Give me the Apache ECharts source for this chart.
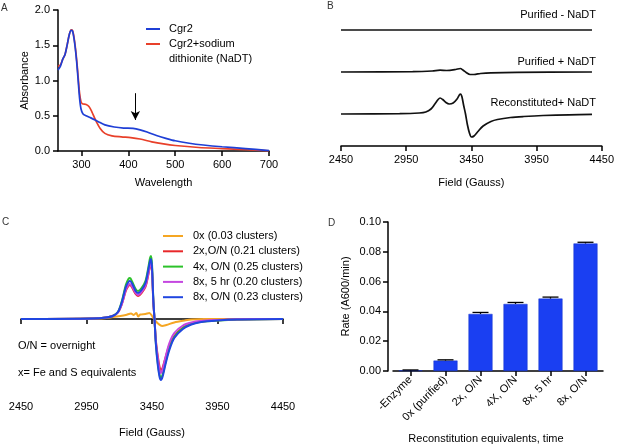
<!DOCTYPE html>
<html><head><meta charset="utf-8">
<script src="https://cdn.jsdelivr.net/npm/echarts@6/dist/echarts.min.js"></script>
<style>html,body{margin:0;padding:0;background:#fff}#c{width:617px;height:446px}</style>
</head><body><div id="c"></div>
<script>
// ---------- Panel A: UV-vis ----------
const aXTicks = [300, 400, 500, 600, 700];
const aBlue = [[250,1.15],[255,1.2],[260,1.3],[265,1.37],[270,1.52],[274,1.65],[278,1.71],[281,1.7],[284,1.6],[287,1.45],[290,1.25],[293,1.0],[296,0.75],[299,0.6],[303,0.53],[310,0.5],[320,0.47],[335,0.42],[350,0.37],[370,0.34],[390,0.325],[410,0.32],[425,0.3],[440,0.27],[460,0.22],[480,0.18],[500,0.145],[530,0.11],[560,0.085],[600,0.06],[650,0.035],[700,0.005]];
const aRed = [[250,1.2],[255,1.22],[260,1.3],[265,1.37],[270,1.52],[274,1.65],[278,1.72],[281,1.71],[284,1.62],[287,1.47],[290,1.28],[293,1.05],[296,0.82],[299,0.7],[302,0.67],[310,0.66],[316,0.63],[322,0.56],[330,0.44],[340,0.32],[350,0.25],[365,0.215],[385,0.2],[405,0.19],[425,0.17],[450,0.13],[475,0.1],[500,0.078],[550,0.05],[600,0.034],[650,0.018],[700,0.002]];
const aArrow = {x: 415, from: 0.82, to: 0.44};

// ---------- Panel B: EPR traces ----------
const fieldTicks = [2450, 2950, 3450, 3950, 4450];
const bTopField = [2450, 3270, 3285, 3295, 3305, 3320, 4375];
const bTop = [0, 0, 0.8, 0, -0.8, 0, 0];
const bMidField = [2450, 3000, 3150, 3210, 3260, 3330, 3365, 3385, 3410, 3440, 3470, 3520, 3600, 3800, 4375];
const bMid = [0, 0.3, 1, 1.8, 1.5, 2.5, 3.5, 2, -0.5, -2.5, -2.5, -1.5, -0.8, -0.3, 0];
const bBotField = [2450, 2900, 3050, 3100, 3140, 3170, 3195, 3210, 3230, 3255, 3280, 3310, 3340, 3360, 3368, 3378, 3390, 3405, 3420, 3435, 3450, 3470, 3500, 3540, 3600, 3650, 3750, 3850, 4000, 4200, 4375];
const bBot = [0, 0.3, 1, 2, 5, 10, 14.5, 16, 14.5, 11.5, 10, 11, 15, 19.5, 20, 17, 9, 0, -11, -19, -23, -22, -17.5, -12, -7.5, -5.5, -3.5, -2.5, -1.5, -0.8, -0.3];
const bNames = ['Purified - NaDT', 'Purified + NaDT', 'Reconstituted+ NaDT'];

// ---------- Panel C: EPR reconstitution ----------
const cNames = ['0x (0.03 clusters)', '2x,O/N (0.21 clusters)', '4x, O/N (0.25 clusters)', '8x, 5 hr (0.20 clusters)', '8x, O/N (0.23 clusters)'];
const cOrangeField = [2450, 3050, 3150, 3250, 3290, 3310, 3330, 3345, 3360, 3400, 3430, 3450, 3470, 3500, 3527, 3560, 3620, 3700, 3750, 3850, 4450];
const cOrange = [0, 0.5, 2, 4, 5.5, 4, 6, 2.5, 4.5, 5, 6, 3, -1, -5, -7, -6, -3.5, -1.5, -0.5, 0, 0];
const cField = [2450, 3000, 3100, 3150, 3190, 3220, 3250, 3270, 3282, 3300, 3325, 3343, 3370, 3400, 3420, 3435, 3442, 3450, 3460, 3469, 3480, 3495, 3508, 3518, 3530, 3550, 3580, 3620, 3686, 3750, 3816, 3950, 4100, 4450];
const cRed = [0,0.5,1.5,3,6.5,15,28,33,34,31,25,23,26,32,43,53,55,48,17,0,-22,-38,-48,-51,-49,-40,-27,-17,-8.5,-4.5,-2.8,-1.3,-0.4,0];
const cGreen = [0,0.5,1.5,3,7,18,34,40,41,37,30,28,31,38,50,61,63,55,20,0,-25,-45,-56,-59,-56,-45,-30,-18,-9,-5,-3,-1.5,-0.5,0];
const cMagenta = [0,0.5,1.5,3,6.5,15,29,34,35,32,26,24,27,33,44,54,56,49,18,0,-23,-40,-51,-54,-51,-40,-25,-14,-6.5,-3.5,-2,-1,-0.3,0];
const cBlue = [0,0.5,1.5,3,7,17,32,37,38,35,28,26,29,36,48,58,60,52,19,0,-26,-47,-58,-61,-58,-47,-32,-19,-10,-5.5,-3.2,-1.5,-0.5,0];

// ---------- Panel D: activity ----------
const dCats = ['-Enzyme', '0x (purified)', '2x, O/N', '4X, O/N', '8x, 5 hr', '8x, O/N'];
const dRate = [0.0004, 0.007, 0.0383, 0.045, 0.0486, 0.0856];
const dErr = [0.0003, 0.0005, 0.001, 0.001, 0.001, 0.0008];

const FONT = "'Liberation Sans', Arial, Helvetica, sans-serif";
const FS = 11;
const pair = (xs, ys, off) => xs.map((x, i) => [x, ys[i] + (off || 0)]);
const axisLineStyle = {show: true, lineStyle: {color: '#000', width: 1.5}};
const tickStyle = {show: true, length: 5, lineStyle: {color: '#000', width: 1.5}};
const lbl = {color: '#000', fontSize: FS, fontFamily: FONT};
const nameStyle = {color: '#000', fontSize: FS, fontFamily: FONT};

const B_OFF = [116, 74, 32];

const fieldAxis = (gi, gap) => ({
  type: 'value', gridIndex: gi, min: 2450, max: 4450,
  axisLine: axisLineStyle, axisTick: Object.assign({}, tickStyle, {customValues: fieldTicks}),
  axisLabel: Object.assign({}, lbl, {customValues: fieldTicks, margin: 8, formatter: v => String(v)}),
  splitLine: {show: false},
  name: 'Field (Gauss)', nameLocation: 'middle', nameGap: gap, nameTextStyle: nameStyle
});

const cColors = ['#f5a623', '#e8282a', '#2cc22a', '#c447e0', '#2046e0'];
const cData = [pair(cOrangeField, cOrange), pair(cField, cRed), pair(cField, cGreen), pair(cField, cMagenta), pair(cField, cBlue)];

const option = {
  animation: false,
  textStyle: {fontFamily: FONT},
  grid: [
    {left: 58, top: 10, width: 211, height: 141},
    {left: 341, top: 10, width: 266, height: 136},
    {left: 21, top: 240, width: 262, height: 153},
    {left: 393, top: 222, width: 210, height: 149}
  ],
  xAxis: [
    {type: 'value', gridIndex: 0, min: 250, max: 700,
     axisLine: axisLineStyle, axisTick: Object.assign({}, tickStyle, {customValues: aXTicks}),
     axisLabel: Object.assign({}, lbl, {customValues: aXTicks, margin: 8, formatter: v => String(v)}), splitLine: {show: false},
     name: 'Wavelength', nameLocation: 'middle', nameGap: 26, nameTextStyle: nameStyle},
    fieldAxis(1, 31),
    fieldAxis(2, 34),
    {type: 'category', gridIndex: 3, data: dCats,
     axisLine: axisLineStyle, axisTick: Object.assign({}, tickStyle, {alignWithLabel: true}),
     axisLabel: Object.assign({}, lbl, {rotate: 45, interval: 0, margin: 7}),
     name: 'Reconstitution equivalents, time', nameLocation: 'middle', nameGap: 62,
     nameTextStyle: Object.assign({}, nameStyle, {padding: [0, 24, 0, 0]})}
  ],
  yAxis: [
    {type: 'value', gridIndex: 0, min: 0, max: 2, interval: 0.5,
     axisLine: axisLineStyle, axisTick: tickStyle,
     axisLabel: Object.assign({}, lbl, {formatter: v => v.toFixed(1), margin: 8}), splitLine: {show: false},
     name: 'Absorbance', nameLocation: 'middle', nameGap: 26, nameTextStyle: nameStyle},
    {type: 'value', gridIndex: 1, min: 0, max: 136, show: false},
    {type: 'value', gridIndex: 2, min: -74, max: 79, show: false},
    {type: 'value', gridIndex: 3, min: 0, max: 0.1, interval: 0.02, offset: 5,
     axisLine: axisLineStyle, axisTick: tickStyle,
     axisLabel: Object.assign({}, lbl, {formatter: v => v.toFixed(2), margin: 7}), splitLine: {show: false},
     name: 'Rate (A600/min)', nameLocation: 'middle', nameGap: 37, nameTextStyle: nameStyle}
  ],
  legend: [
    {left: 146, top: 23, padding: 0, orient: 'vertical', icon: 'rect', itemWidth: 14, itemHeight: 2, itemGap: 3,
     data: ['Cgr2', 'Cgr2+sodium dithionite (NaDT)'],
     formatter: n => n === 'Cgr2' ? 'Cgr2' : 'Cgr2+sodium',
     textStyle: {color: '#000', fontSize: FS, lineHeight: 12, fontFamily: FONT, padding: [0, 0, 0, 4]}},
    {left: 163, top: 230, padding: 0, orient: 'vertical', icon: 'rect', itemWidth: 20, itemHeight: 2, itemGap: 3.3,
     data: cNames,
     textStyle: {color: '#000', fontSize: FS, lineHeight: 12, fontFamily: FONT, padding: [0, 0, 0, 5]}}
  ],
  series: [
    {type: 'line', name: 'Cgr2', xAxisIndex: 0, yAxisIndex: 0, data: aBlue, showSymbol: false, smooth: 0.3,
     lineStyle: {color: '#1f3fd6', width: 1.7}, itemStyle: {color: '#1f3fd6'}, z: 3,
     markLine: {silent: true, symbol: ['none', 'arrow'], symbolSize: [7, 9], label: {show: false},
       lineStyle: {color: '#000', width: 1, type: 'solid'},
       data: [[{coord: [aArrow.x, aArrow.from]}, {coord: [aArrow.x, aArrow.to]}]]}},
    {type: 'line', name: 'Cgr2+sodium dithionite (NaDT)', xAxisIndex: 0, yAxisIndex: 0, data: aRed, showSymbol: false, smooth: 0.3,
     lineStyle: {color: '#e8402a', width: 1.7}, itemStyle: {color: '#e8402a'}, z: 2},
    {type: 'line', name: bNames[0], xAxisIndex: 1, yAxisIndex: 1, data: pair(bTopField, bTop, B_OFF[0]), showSymbol: false,
     lineStyle: {color: '#111', width: 1.7}},
    {type: 'line', name: bNames[1], xAxisIndex: 1, yAxisIndex: 1, data: pair(bMidField, bMid, B_OFF[1]), showSymbol: false, smooth: 0.3,
     lineStyle: {color: '#111', width: 1.7}},
    {type: 'line', name: bNames[2], xAxisIndex: 1, yAxisIndex: 1, data: pair(bBotField, bBot, B_OFF[2]), showSymbol: false, smooth: 0.3,
     lineStyle: {color: '#111', width: 1.7}},
    ...cNames.map((n, i) => ({type: 'line', name: n, xAxisIndex: 2, yAxisIndex: 2, data: cData[i], showSymbol: false, smooth: 0.3,
     lineStyle: {color: cColors[i], width: 2}, itemStyle: {color: cColors[i]}})),
    {type: 'bar', name: 'Rate', xAxisIndex: 3, yAxisIndex: 3, data: dRate, barWidth: 24,
     itemStyle: {color: '#1a3ff2', borderColor: '#1530c8', borderWidth: 0.5}},
    {type: 'custom', name: 'err', xAxisIndex: 3, yAxisIndex: 3, z: 5,
     data: dRate.map((v, i) => [i, v, dErr[i]]), encode: {x: 0, y: 1},
     renderItem: (params, api) => {
       const i = api.value(0), v = api.value(1), e = api.value(2);
       const top = api.coord([i, v + e]), bot = api.coord([i, v]);
       const st = {stroke: '#000', lineWidth: 1.3};
       return {type: 'group', children: [
         {type: 'line', shape: {x1: top[0], y1: top[1], x2: bot[0], y2: bot[1]}, style: st},
         {type: 'line', shape: {x1: top[0] - 8, y1: top[1], x2: top[0] + 8, y2: top[1]}, style: st}
       ]};
     }}
  ],
  graphic: [
    {type: 'text', left: 1, top: 3, style: {text: 'A', fontSize: 10, fill: '#333', fontFamily: FONT}},
    {type: 'text', left: 327, top: 1, style: {text: 'B', fontSize: 10, fill: '#333', fontFamily: FONT}},
    {type: 'text', left: 2, top: 217, style: {text: 'C', fontSize: 10, fill: '#333', fontFamily: FONT}},
    {type: 'text', left: 328, top: 218, style: {text: 'D', fontSize: 10, fill: '#333', fontFamily: FONT}},
    {type: 'text', left: 169, top: 53, style: {text: 'dithionite (NaDT)', fontSize: FS, fill: '#000', fontFamily: FONT}},
    {type: 'text', right: 21, top: 9, style: {text: bNames[0], fontSize: FS, fill: '#000', fontFamily: FONT}},
    {type: 'text', right: 21, top: 56, style: {text: bNames[1], fontSize: FS, fill: '#000', fontFamily: FONT}},
    {type: 'text', right: 21, top: 97, style: {text: bNames[2], fontSize: FS, fill: '#000', fontFamily: FONT}},
    {type: 'text', left: 18, top: 340, style: {text: 'O/N = overnight', fontSize: FS, fill: '#000', fontFamily: FONT}},
    {type: 'text', left: 18, top: 367, style: {text: 'x= Fe and S equivalents', fontSize: FS, fill: '#000', fontFamily: FONT}}
  ]
};
const chart = echarts.init(document.getElementById('c'), null, {renderer: 'canvas'});
chart.setOption(option);
</script></body></html>
